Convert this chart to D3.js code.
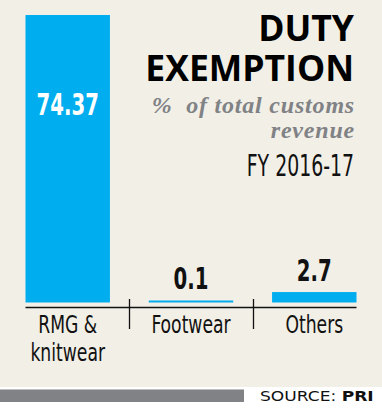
<!DOCTYPE html>
<html>
<head>
<meta charset="utf-8">
<script src="https://cdn.jsdelivr.net/npm/d3@7"></script>
<style>
  body { margin: 0; background: #fff; }
  svg { display: block; }
  .narrow { font-family: "DejaVu Sans Condensed", "Liberation Sans Narrow", sans-serif; }
</style>
</head>
<body>
<div id="chart"></div>
<script>
// chart data
var categories = ["RMG &\nknitwear", "Footwear", "Others"];
var values = [74.37, 0.1, 2.7];
var valueLabels = ["74.37", "0.1", "2.7"];

var W = 382, H = 410;
var bg = "#f2efe7", blue = "#00aeef";

var svg = d3.select("#chart").append("svg").attr("width", W).attr("height", H);

svg.append("rect").attr("width", W).attr("height", 387).attr("fill", bg);

var baseY = 302.5, axisY = 307.5;

var x = d3.scaleBand()
    .domain(categories)
    .range([25.5, 356.5])
    .paddingInner(0.315)
    .paddingOuter(0);

var y = d3.scaleLinear()
    .domain([0, d3.max(values)])
    .range([baseY, 15]);

svg.selectAll(".bar")
    .data(values)
    .enter()
    .append("rect")
    .attr("class", "bar")
    .attr("x", function(d, i) { return x(categories[i]); })
    .attr("width", x.bandwidth())
    .attr("y", function(d) { return Math.min(y(d), baseY - 2); })
    .attr("height", function(d) { return Math.max(baseY - y(d), 2); })
    .attr("fill", blue);

// value labels: first one inside the bar (white), others above
svg.selectAll(".val")
    .data(values)
    .enter()
    .append("text")
    .attr("class", "val narrow")
    .attr("transform", function(d, i) {
        var vx = x(categories[i]) + x.bandwidth() / 2;
        var vy = i == 0 ? 115 : Math.min(y(d), baseY - 2) - 11.5;
        return "translate(" + vx + "," + vy + ") scale(0.73,1)";
    })
    .attr("text-anchor", "middle")
    .attr("font-size", 30)
    .attr("font-weight", "bold")
    .attr("fill", function(d, i) { return i == 0 ? "#fff" : "#111"; })
    .text(function(d, i) { return valueLabels[i]; });

// axis line and separators
svg.append("line")
    .attr("x1", x.range()[0]).attr("x2", x.range()[1])
    .attr("y1", axisY).attr("y2", axisY)
    .attr("stroke", "#111").attr("stroke-width", 1.3);

var gap = x.step() - x.bandwidth();
categories.slice(1).forEach(function(c) {
    var sx = Math.round(x(c) - gap / 2) + 0.5;
    svg.append("line")
        .attr("x1", sx).attr("x2", sx)
        .attr("y1", 299).attr("y2", 329)
        .attr("stroke", "#111").attr("stroke-width", 1.3);
});

// category labels
categories.forEach(function(c) {
    var cx = x(c) + x.bandwidth() / 2;
    var t = svg.append("text")
        .attr("class", "narrow")
        .attr("transform", "translate(" + cx + ",333) scale(0.78,1)")
        .attr("text-anchor", "middle")
        .attr("font-size", 24.5)
        .attr("fill", "#111");
    c.split("\n").forEach(function(line, j) {
        t.append("tspan").attr("x", 0).attr("y", j * 28.5).text(line);
    });
});

// title block
var rx = 354;
svg.append("text")
    .attr("x", rx).attr("y", 41)
    .attr("text-anchor", "end")
    .attr("font-family", "'Open Sans', sans-serif")
    .attr("font-weight", "bold")
    .attr("font-size", 35.5)
    .attr("fill", "#000")
    .text("DUTY");

svg.append("text")
    .attr("x", rx).attr("y", 81)
    .attr("text-anchor", "end")
    .attr("font-family", "'Open Sans', sans-serif")
    .attr("font-weight", "bold")
    .attr("font-size", 35.5)
    .attr("fill", "#000")
    .text("EXEMPTION");

var sub = svg.append("text")
    .attr("text-anchor", "end")
    .attr("font-family", "'Liberation Serif', serif")
    .attr("font-style", "italic")
    .attr("font-weight", "bold")
    .attr("font-size", 24)
    .attr("letter-spacing", 0.8)
    .attr("fill", "#808285")
    .style("white-space", "pre");
sub.append("tspan").attr("x", rx + 1).attr("y", 113).text("%  of total customs");
sub.append("tspan").attr("x", rx + 1).attr("y", 138).text("revenue");

svg.append("text")
    .attr("class", "narrow")
    .attr("transform", "translate(" + rx + ",176) scale(0.7,1)")
    .attr("text-anchor", "end")
    .attr("font-size", 30)
    .attr("fill", "#111")
    .text("FY 2016-17");

// footer
svg.append("rect")
    .attr("x", 0).attr("y", 389.5)
    .attr("width", 244).attr("height", 12.5)
    .attr("fill", "#808285");

var src = svg.append("text")
    .attr("transform", "translate(260,401) scale(1.22,1)")
    .attr("font-family", "'DejaVu Sans', Verdana, sans-serif")
    .attr("font-size", 14)
    .attr("fill", "#111");
src.append("tspan").text("SOURCE: ");
src.append("tspan").attr("font-weight", "bold").text("PRI");
</script>
</body>
</html>
